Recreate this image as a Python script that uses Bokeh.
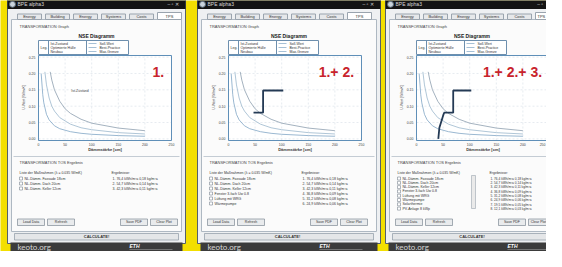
import math
from bokeh.plotting import figure
from bokeh.models import Range1d
from bokeh.embed import file_html
from bokeh.resources import INLINE
from bokeh.core.properties import value

# ---------------- data ----------------
panel_labels = ["1.", "1.+ 2.", "1.+ 2.+ 3."]
window_title = "BPE alpha3"
tab_labels = ["Energy", "Building", "Energy", "Systems", "Costs", "TPS"]
chart_title = "NSE Diagramm"
x_axis_label = "Dämmstärke [cm]"
y_axis_label = "U-Wert [W/m²K]"
x_tick_values = [0, 50, 100, 150, 200, 250]
x_tick_labels = ["0", "50", "100", "150", "200", "250"]
y_tick_values = [0.00, 0.05, 0.10, 0.15, 0.20, 0.25]
y_tick_labels = ["0.00", "0.05", "0.10", "0.15", "0.20", "0.25"]

curve_a_x = [5, 8, 10, 15, 20, 30, 40, 60, 80, 100, 150, 200]
curve_a_y = [0.200, 0.135, 0.110, 0.075, 0.058, 0.040, 0.031, 0.022, 0.017, 0.014, 0.010, 0.008]
curve_b_x = [12, 15, 20, 25, 30, 40, 60, 80, 100, 150, 200]
curve_b_y = [0.205, 0.165, 0.125, 0.100, 0.085, 0.065, 0.045, 0.034, 0.028, 0.019, 0.015]
curve_c_x = [22, 25, 30, 40, 50, 60, 80, 100, 150, 200]
curve_c_y = [0.205, 0.180, 0.150, 0.115, 0.092, 0.078, 0.060, 0.048, 0.033, 0.025]

step_2_x = [47, 65, 65, 103]
step_2_y = [0.080, 0.080, 0.148, 0.148]
step_3_x = [41, 43, 50, 52, 69, 69, 103]
step_3_y = [0.000, 0.034, 0.071, 0.080, 0.080, 0.148, 0.148]

annotation_text = "Ist-Zustand"
annotation_x = [78]
annotation_y = [0.145]

legend_left = ["Ist-Zustand", "Optimierte Hülle", "Neubau"]
legend_right = ["Soll-Wert", "Best-Practice", "Max-Grenze"]

measures_1 = ["NL-Dämm. Fassade 18cm", "NL-Dämm. Dach 20cm", "NL-Dämm. Keller 12cm"]
measures_2 = measures_1 + ["Fenster 3-fach Uw 0.8", "Lüftung mit WRG", "Wärmepumpe"]
measures_3 = measures_2 + ["Solarthermie", "PV-Anlage 8 kWp"]
results_1 = ["1. 76,4 kWh/m²a  0,18 kg/m²a", "2. 54,7 kWh/m²a  0,14 kg/m²a",
             "3. 42,3 kWh/m²a  0,11 kg/m²a"]
results_2 = results_1 + ["4. 36,8 kWh/m²a  0,09 kg/m²a", "5. 31,2 kWh/m²a  0,08 kg/m²a",
                         "6. 24,9 kWh/m²a  0,06 kg/m²a"]
results_3 = results_2 + ["7. 19,5 kWh/m²a  0,05 kg/m²a", "8. 12,1 kWh/m²a  0,03 kg/m²a"]
button_labels = ["Load Data", "Refresh", "Save PDF", "Clear Plot"]
calc_label = "CALCULATE!"
footer_text = "keoto.org"
logo_text = "ETH"

# ---------------- layout (reference pixel space) ----------------
W, H = 546, 251
XMAX = 554
p = figure(width=W, height=H, x_range=Range1d(8, XMAX), y_range=Range1d(259, 8),
           output_backend="svg", toolbar_location=None, min_border=0,
           x_axis_location=None, y_axis_location=None)
p.grid.visible = False
p.outline_line_color = None
p.background_fill_color = "#f3df00"
p.border_fill_color = "#f3df00"

FONT = value("Liberation Sans")
panels = [
    dict(wl=15, wr=193, steps=None, measures=measures_1, results=results_1),
    dict(wl=205, wr=388, steps=(step_2_x, step_2_y), measures=measures_2, results=results_2),
    dict(wl=393, wr=566, steps=(step_3_x, step_3_y), measures=measures_3, results=results_3),
]

curves = [(curve_a_x, curve_a_y), (curve_b_x, curve_b_y), (curve_c_x, curve_c_y)]
curve_colors = ["#8fb0cc", "#a7bfd3", "#9aa9b8"]

for i, pn in enumerate(panels):
    wl, wr = pn["wl"], pn["wr"]
    cx = (wl + wr) / 2
    last = (i == len(panels) - 1)
    # window body
    p.quad(left=wl, right=wr, top=7, bottom=251, fill_color="#eef0f2", line_color="#55606a", line_width=1)
    # title bar
    p.quad(left=wl, right=wr, top=7, bottom=16.5, fill_color="#141414", line_color=None)
    p.scatter(x=[wl + 5], y=[11.8], size=6, fill_color="#c9d3dc", line_color="#5a6a78")
    p.text(x=[wl + 10], y=[11.8], text=[window_title], text_font=FONT, text_font_size="5px",
           text_color="#d8d8d8", text_baseline="middle")
    p.text(x=[min(wr - 4, XMAX - 2)], y=[11.8], text=["–  ▫  ✕" if not last else "–  ▫"],
           text_font=FONT, text_font_size="5px",
           text_color="#cfcfcf", text_baseline="middle", text_align="right")
    # content area
    p.quad(left=wl + 4, right=wr - 4, top=27, bottom=239, fill_color="#fbfbfb", line_color="#aeb8c2")
    # tabs
    for k, lab in enumerate(tab_labels):
        tl = wl + 10 + k * 28
        active = (k == len(tab_labels) - 1)
        p.quad(left=tl, right=tl + 24, top=20 if active else 21.5, bottom=27,
               fill_color="#ffffff" if active else "#e6e8ea", line_color="#9aa4ae")
        if tl + 24 > XMAX:
            p.text(x=[tl + 2], y=[24.2], text=[lab], text_font=FONT, text_font_size="4px",
                   text_color="#333333", text_align="left", text_baseline="middle")
        else:
            p.text(x=[tl + 12], y=[24.2], text=[lab], text_font=FONT, text_font_size="4px",
                   text_color="#333333", text_align="center", text_baseline="middle")
    p.text(x=[wl + 12], y=[33.5], text=["TRANSFORMATION Graph"], text_font=FONT, text_font_size="4px",
           text_color="#444444", text_baseline="middle")
    p.text(x=[min(cx, wl + 92)], y=[43], text=[chart_title], text_font=FONT, text_font_size="5px",
           text_font_style="bold", text_color="#222222", text_align="center", text_baseline="middle")

    fl = wl + 31
    fr = fl + 133
    # legend box
    p.quad(left=fl, right=fl + 90, top=48, bottom=62, fill_color="#ffffff", line_color="#6d8fae")
    p.segment(x0=[fl + 10, fl + 48], y0=[48, 48], x1=[fl + 10, fl + 48], y1=[62, 62], line_color="#6d8fae")
    p.text(x=[fl + 2], y=[55], text=["Leg."], text_font=FONT, text_font_size="3.5px",
           text_color="#333333", text_baseline="middle")
    p.text(x=[fl + 12] * 3, y=[51, 55, 59], text=legend_left, text_font=FONT, text_font_size="3.5px",
           text_color="#333333", text_baseline="middle")
    p.segment(x0=[fl + 50] * 3, y0=[51, 55, 59], x1=[fl + 58] * 3, y1=[51, 55, 59],
              line_color="#8fb0cc", line_width=0.8)
    p.text(x=[fl + 61] * 3, y=[51, 55, 59], text=legend_right, text_font=FONT, text_font_size="3.5px",
           text_color="#333333", text_baseline="middle")

    # the chart itself, in its own data space
    sub = p.subplot(x_source=Range1d(0, 250), y_source=Range1d(-0.005, 0.255),
                    x_target=Range1d(fl, fr), y_target=Range1d(148, 63))
    sub.quad(left=0, right=250, bottom=-0.005, top=0.255, fill_color="#ffffff", line_color=None)
    sub.segment(x0=x_tick_values, y0=[-0.005] * 6, x1=x_tick_values, y1=[0.255] * 6,
                line_color="#d5dde5", line_width=0.6, line_dash="2 2")
    sub.segment(x0=[0] * 6, y0=y_tick_values, x1=[250] * 6, y1=y_tick_values,
                line_color="#d5dde5", line_width=0.6, line_dash="2 2")
    for (cxs, cys), col in zip(curves, curve_colors):
        sub.line(x=cxs, y=cys, line_color=col, line_width=0.9)
    if pn["steps"] is not None:
        sx, sy = pn["steps"]
        sub.line(x=sx, y=sy, line_color="#243a55", line_width=1.8)
    if i == 0:
        sub.text(x=annotation_x, y=annotation_y, text=[annotation_text], text_font=FONT,
                 text_font_size="3.5px", text_color="#444444", text_align="center",
                 text_baseline="middle")
    sub.quad(left=0, right=250, bottom=-0.005, top=0.255, fill_color=None, line_color="#5f8fb8",
             line_width=1)
    sub.text(x=[0] * 6, y=y_tick_values, text=y_tick_labels, text_font=FONT, text_font_size="3.5px",
             text_color="#444444", text_align="right", text_baseline="middle", x_offset=-3)
    nx = 5 if last else 6
    sub.text(x=x_tick_values[:nx], y=[-0.005] * nx, text=x_tick_labels[:nx], text_font=FONT,
             text_font_size="3.5px", text_color="#444444", text_align="center",
             text_baseline="top", y_offset=2)
    if last:
        sub.text(x=x_tick_values[5:], y=[-0.005], text=x_tick_labels[5:], text_font=FONT,
                 text_font_size="3.5px", text_color="#444444", text_align="right",
                 text_baseline="top", y_offset=2, x_offset=-4)
    sub.text(x=[236], y=[0.204], text=[panel_labels[i]], text_font=value("Liberation Sans"),
             text_font_size="14px", text_font_style="bold", text_color="#c8232c",
             text_align="right", text_baseline="middle")
    p.text(x=[(fl + fr) / 2], y=[157], text=[x_axis_label], text_font=FONT, text_font_size="4px",
           text_font_style="bold", text_color="#333333", text_align="center", text_baseline="middle")
    p.text(x=[wl + 16], y=[105], text=[y_axis_label], text_font=FONT, text_font_size="3.5px",
           text_color="#333333", text_align="center", text_baseline="middle", angle=math.pi / 2)

    # bottom section
    p.segment(x0=[wl + 6], y0=[164], x1=[wr - 6], y1=[164], line_color="#c4ccd4")
    p.text(x=[wl + 12], y=[170], text=["TRANSFORMATION TOS Ergebnis"], text_font=FONT,
           text_font_size="4px", text_color="#444444", text_baseline="middle")
    p.text(x=[wl + 12], y=[180.5], text=["Liste der Maßnahmen (λ = 0.035 W/mK)"], text_font=FONT,
           text_font_size="3.5px", text_color="#333333", text_baseline="middle")
    p.text(x=[wl + 104], y=[180.5], text=["Ergebnisse:"], text_font=FONT,
           text_font_size="3.5px", text_color="#333333", text_baseline="middle")
    n = len(pn["measures"])
    gap = 5 if n <= 6 else 4.3
    ys = [186 + j * gap for j in range(n)]
    p.quad(left=[wl + 12] * n, right=[wl + 15] * n, top=[y - 1.5 for y in ys],
           bottom=[y + 1.5 for y in ys], fill_color="#ffffff", line_color="#7a8590", line_width=0.6)
    p.text(x=[wl + 17] * n, y=ys, text=pn["measures"], text_font=FONT, text_font_size="3.5px",
           text_color="#333333", text_baseline="middle")
    p.text(x=[wl + 105] * n, y=ys, text=pn["results"], text_font=FONT,
           text_font_size="3.2px" if last else "3.5px",
           text_color="#333333", text_baseline="middle")
    if n > 6:
        p.quad(left=wl + 86, right=wl + 90, top=183, bottom=216, fill_color="#eaeaea",
               line_color="#9aa4ae", line_width=0.6)
    # buttons
    bl = [wl + 10, wl + 40, wl + 113, wl + 143]
    p.quad(left=bl, right=[b + 27 for b in bl], top=[226.5] * 4, bottom=[233] * 4,
           fill_color="#e9ebed", line_color="#7f8a95", line_width=0.7)
    p.text(x=[min(b + 13.5, XMAX - 8) for b in bl], y=[229.8] * 4, text=button_labels, text_font=FONT,
           text_font_size="3.5px", text_color="#333333", text_align="center", text_baseline="middle")
    # calculate bar
    p.quad(left=wl + 7, right=wr - 7, top=241, bottom=247.5, fill_color="#e4e6e8",
           line_color="#8d98a3", line_width=0.7)
    p.text(x=[min(cx, wl + 90)], y=[244.3], text=[calc_label], text_font=FONT, text_font_size="4px",
           text_font_style="bold", text_color="#333333", text_align="center", text_baseline="middle")
    # footer band
    p.quad(left=wl + 3, right=wr - 3, top=250, bottom=268, fill_color="#3b3b3b", line_color=None)
    p.text(x=[wl + 10], y=[254.8], text=[footer_text], text_font=value("Lato"), text_font_size="8px",
           text_color="#d6d6d6", text_baseline="middle")
    p.text(x=[wl + 122], y=[253.8], text=[logo_text], text_font=FONT, text_font_size="5px",
           text_font_style="bold italic", text_color="#ffffff", text_baseline="middle")
    p.segment(x0=[wl + 122], y0=[257], x1=[wl + 165], y1=[257], line_color="#9a9a9a", line_width=0.6)

open("out.html", "w").write(file_html(p, INLINE))
